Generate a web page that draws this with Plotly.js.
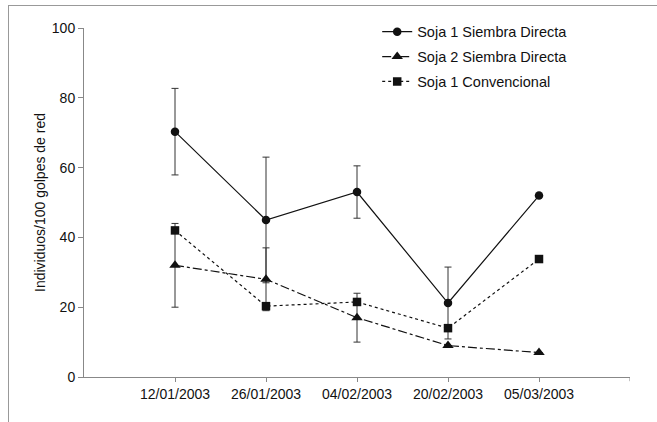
<!DOCTYPE html>
<html>
<head>
<meta charset="utf-8">
<script src="https://cdn.plot.ly/plotly-3.0.1.min.js"></script>
<style>
  html, body { margin: 0; padding: 0; background: #fff; }
  #wrap { position: relative; width: 657px; height: 422px; }
  #chart { position: absolute; left: 0; top: 0; width: 657px; height: 422px; }
  #frame { position: absolute; left: 8px; top: 5px; width: 649px; height: 417px;
           border-top: 1px solid #999; border-left: 1px solid #999; pointer-events: none; }
</style>
</head>
<body>
<div id="wrap">
  <div id="chart"></div>
  <div id="frame"></div>
</div>
<script>
const dates = ["12/01/2003", "26/01/2003", "04/02/2003", "20/02/2003", "05/03/2003"];
const soja1SD = [70.3, 45, 53, 21.2, 52];
const soja1SDErr = [12.4, 18, 7.5, 10.3, 0];
const soja2SD = [32, 28, 17, 9, 7];
const soja2SDErr = [12, 9, 7, 0, 0];
const soja1Conv = [42, 20.3, 21.5, 14, 33.8];
const soja1ConvErr = [0, 0, 0, 0, 0];
const names = ["Soja 1 Siembra Directa", "Soja 2 Siembra Directa", "Soja 1 Convencional"];
const yTicks = [0, 20, 40, 60, 80, 100];

const font = "Liberation Sans, Arial, sans-serif";
function errBar(arr) {
  return { type: "data", array: arr, visible: true, color: "#333", thickness: 1, width: 3.5 };
}

const traces = [
  { x: dates, y: soja1SD, name: names[0], legendgroup: "a", mode: "lines+markers",
    line: { color: "#111", width: 1.2, dash: "solid" },
    marker: { symbol: "circle", size: 8.5, color: "#111" }, error_y: errBar(soja1SDErr) },
  { x: dates, y: soja2SD, name: names[1], legendgroup: "b", mode: "lines+markers",
    line: { color: "#111", width: 1.2, dash: "dashdot" },
    marker: { symbol: "triangle-up", size: 10, color: "#111" }, error_y: errBar(soja2SDErr) },
  { x: dates, y: soja1Conv, name: names[2], legendgroup: "c", mode: "lines+markers",
    line: { color: "#111", width: 1.2, dash: "dot" },
    marker: { symbol: "square", size: 8.5, color: "#111" }, error_y: errBar(soja1ConvErr) }
];

const layout = {
  width: 657, height: 422,
  margin: { l: 84, r: 27, t: 28, b: 45 },
  paper_bgcolor: "#fff", plot_bgcolor: "#fff",
  font: { family: font, size: 14, color: "#111" },
  showlegend: true,
  legend: { x: 0.537, y: 1.035, xanchor: "left", yanchor: "top",
            traceorder: "grouped", tracegroupgap: 3, bgcolor: "rgba(0,0,0,0)",
            font: { family: font, size: 14.5, color: "#111" } },
  xaxis: {
    type: "category", range: [-1, 5], showgrid: false, zeroline: false,
    showline: true, linecolor: "#888", linewidth: 1,
    ticks: "outside", ticklen: 4, tickcolor: "#888",
    tickfont: { family: font, size: 14, color: "#111" }
  },
  yaxis: {
    range: [0, 100], tickvals: yTicks, showgrid: false, zeroline: false,
    showline: true, linecolor: "#888", linewidth: 1,
    ticks: "outside", ticklen: 5, tickcolor: "#888",
    tickfont: { family: font, size: 14, color: "#111" },
    title: { text: "Individuos/100 golpes de red", font: { family: font, size: 14, color: "#111" }, standoff: 2 }
  },
  shapes: [
    { type: "line", xref: "x", yref: "paper", x0: 5, x1: 5, y0: 0, y1: -0.012,
      line: { color: "#888", width: 1 } }
  ]
};

Plotly.newPlot("chart", traces, layout, { displayModeBar: false, staticPlot: true });
</script>
</body>
</html>
